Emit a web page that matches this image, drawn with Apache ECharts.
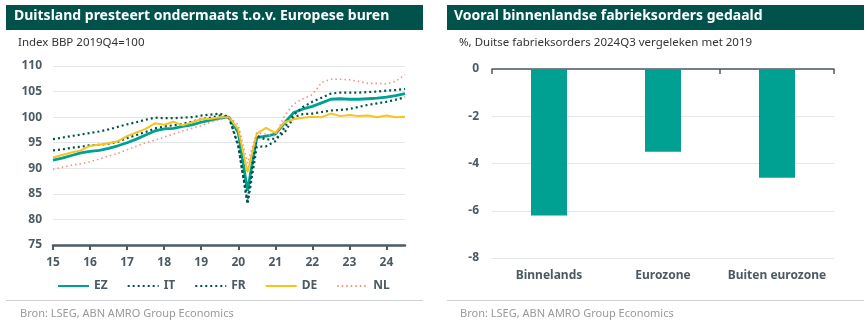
<!DOCTYPE html>
<html><head><meta charset="utf-8">
<script src="https://cdn.jsdelivr.net/npm/echarts@6/dist/echarts.min.js"></script>
<style>html,body{margin:0;padding:0;background:#fff}#c{width:867px;height:325px}</style>
</head><body><div id="c"></div>
<script>
// ---- data ----
const years = [2015,2016,2017,2018,2019,2020,2021,2022,2023,2024];
const quarters = [];
years.forEach(y => { for (let q = 1; q <= 4; q++) { if (y === 2024 && q === 4) break; quarters.push(y + 'Q' + q); } });
const xTickLabels = ['15','16','17','18','19','20','21','22','23','24'];

const EZ = [91.6,92.0,92.5,93.0, 93.3,93.5,93.9,94.4, 95.0,95.7,96.5,97.3, 97.7,97.8,98.2,98.5, 99.0,99.4,99.8,100.0,
            97.0,85.6,96.0,96.3, 96.7,98.9,100.9,101.6, 102.1,102.8,103.5,103.6, 103.5,103.5,103.6,103.7, 103.9,104.2,104.6];
const IT = [95.7,96.0,96.3,96.6, 96.9,97.2,97.6,98.1, 98.6,99.0,99.5,99.9, 99.8,99.8,99.9,100.0, 100.3,100.5,100.7,100.0,
            94.5,83.0,94.2,94.3, 95.3,98.0,100.5,102.0, 103.0,103.8,104.6,104.8, 104.8,104.8,104.9,105.0, 105.2,105.3,105.5];
const FR = [93.5,93.7,94.0,94.2, 94.5,94.6,94.8,95.2, 95.9,96.5,97.1,97.8, 98.2,98.4,98.7,99.1, 99.6,99.9,100.3,100.0,
            94.3,83.5,96.4,95.6, 95.8,97.0,100.0,100.6, 100.7,101.0,101.3,101.4, 101.6,102.0,102.4,102.7, 103.0,103.4,103.9];
const DE = [92.1,92.6,93.1,93.5, 94.4,94.6,94.9,95.3, 96.3,97.0,97.7,98.8, 98.5,99.1,98.4,99.0, 99.6,99.7,100.0,100.0,
            97.6,89.2,96.8,97.9, 96.9,99.0,99.6,99.9, 100.1,100.0,100.7,100.2, 100.4,100.2,100.3,100.0, 100.3,100.0,100.1];
const NL = [89.8,90.2,90.6,90.9, 91.3,91.8,92.4,92.9, 93.6,94.3,95.0,95.5, 96.1,96.7,97.3,97.8, 98.3,99.0,99.5,100.0,
            98.5,91.0,96.9,96.7, 96.3,100.3,102.6,103.6, 104.4,106.8,107.4,107.4, 107.3,107.0,106.6,106.6, 106.5,107.0,108.3];

const orderCats = ['Binnelands','Eurozone','Buiten eurozone'];
const orderVals = [-6.2,-3.5,-4.6];

// ---- styles ----
const FONT = '"Noto Sans", "Open Sans", sans-serif';
const DARK = '#00524a';
const TEAL = '#00a093';
const YEL = '#f6c41c';
const SAL = '#f4927e';
const AX = '#4c5a62';
const GRID = '#e4e6e8';

const chart = echarts.init(document.getElementById('c'), null, {renderer: 'canvas'});

const lbl = {color: AX, fontFamily: FONT, fontWeight: 'bold', fontSize: 12};

function lineSeries(name, data, color, type, width) {
  return {
    name, type: 'line', data, xAxisIndex: 0, yAxisIndex: 0,
    symbol: 'none', smooth: false,
    lineStyle: {color, width, type},
    itemStyle: {color},
    z: 3
  };
}

chart.setOption({
  animation: false,
  textStyle: {fontFamily: FONT},
  graphic: [
    {type: 'rect', shape: {x: 6, y: 5, width: 417, height: 25}, style: {fill: DARK}},
    {type: 'text', left: 14, top: 9, style: {text: 'Duitsland presteert ondermaats t.o.v. Europese buren', fill: '#fff', font: 'bold 14px ' + FONT}},
    {type: 'text', left: 18, top: 37, style: {text: 'Index BBP 2019Q4=100', fill: '#333', font: '11.5px ' + FONT}},
    {type: 'rect', shape: {x: 447, y: 5, width: 417, height: 25}, style: {fill: DARK}},
    {type: 'text', left: 454, top: 9, style: {text: 'Vooral binnenlandse fabrieksorders gedaald', fill: '#fff', font: 'bold 14px ' + FONT}},
    {type: 'text', left: 459, top: 37, style: {text: '%, Duitse fabrieksorders 2024Q3 vergeleken met 2019', fill: '#333', font: '11.5px ' + FONT}},
    {type: 'line', shape: {x1: 6, y1: 300.5, x2: 423, y2: 300.5}, style: {stroke: '#cfd2d4', lineWidth: 1}},
    {type: 'line', shape: {x1: 447, y1: 300.5, x2: 864, y2: 300.5}, style: {stroke: '#cfd2d4', lineWidth: 1}},
    {type: 'text', left: 20, top: 308, style: {text: 'Bron: LSEG, ABN AMRO Group Economics', fill: '#9a9a9a', font: '11px ' + FONT}},
    {type: 'text', left: 460, top: 308, style: {text: 'Bron: LSEG, ABN AMRO Group Economics', fill: '#9a9a9a', font: '11px ' + FONT}}
  ],
  legend: {
    left: 57, top: 280, padding: 0, itemWidth: 31, itemHeight: 14, itemGap: 19,
    itemStyle: {opacity: 0},
    textStyle: {color: AX, fontFamily: FONT, fontWeight: 'bold', fontSize: 12},
    data: ['EZ','IT','FR','DE','NL']
  },
  grid: [
    {left: 53, top: 66, width: 352, height: 179},
    {left: 492, top: 69, width: 342, height: 189}
  ],
  xAxis: [
    {
      type: 'category', gridIndex: 0, data: quarters, boundaryGap: false,
      axisLine: {lineStyle: {color: AX, width: 2.5}},
      axisTick: {lineStyle: {color: AX, width: 2}, length: 5, interval: (i) => i % 4 === 0},
      axisLabel: Object.assign({}, lbl, {margin: 12, interval: (i) => i % 4 === 0,
        formatter: (v, i) => xTickLabels[Math.floor(i / 4)]}),
      splitLine: {show: false}
    },
    {
      type: 'category', gridIndex: 1, data: orderCats, position: 'bottom',
      axisLine: {show: false}, axisTick: {show: false},
      axisLabel: Object.assign({}, lbl, {margin: 12, interval: 0})
    },
    {
      type: 'category', gridIndex: 1, data: orderCats, position: 'top',
      axisLine: {show: true, onZero: false, lineStyle: {color: AX, width: 1.5}},
      axisTick: {show: true, inside: true, length: 5, lineStyle: {color: AX, width: 1.5}},
      axisLabel: {show: false}
    }
  ],
  yAxis: [
    {
      type: 'value', gridIndex: 0, min: 75, max: 110, interval: 5,
      axisLine: {show: false}, axisTick: {show: false},
      axisLabel: Object.assign({}, lbl, {margin: 11}),
      splitLine: {lineStyle: {color: GRID, width: 1}}
    },
    {
      type: 'value', gridIndex: 1, min: -8, max: 0, interval: 2,
      axisLine: {show: false}, axisTick: {show: false},
      axisLabel: Object.assign({}, lbl, {margin: 13}),
      splitLine: {lineStyle: {color: GRID, width: 1}}
    }
  ],
  series: [
    lineSeries('EZ', EZ, TEAL, 'solid', 2.8),
    lineSeries('IT', IT, DARK, [2, 3], 2.2),
    lineSeries('FR', FR, DARK, [2, 3], 2.2),
    lineSeries('DE', DE, YEL, 'solid', 2),
    lineSeries('NL', NL, SAL, [1.5, 3], 1.6),
    {
      name: 'orders', type: 'bar', xAxisIndex: 1, yAxisIndex: 1, data: orderVals,
      barWidth: 36, itemStyle: {color: TEAL}
    }
  ]
});
</script></body></html>
